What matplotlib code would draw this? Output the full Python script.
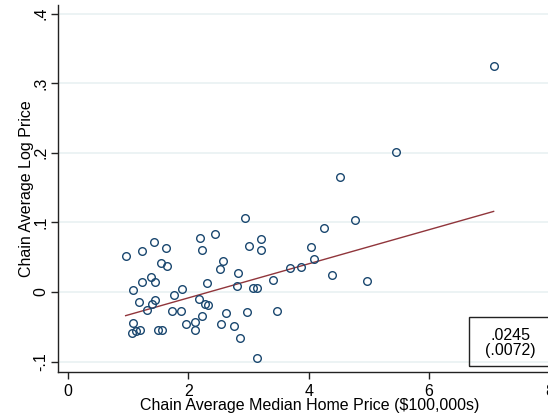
# Chain average log price vs chain average median home price, with linear fit
import matplotlib
matplotlib.use("Agg")
import matplotlib.pyplot as plt
from matplotlib.patches import Rectangle
import numpy as np

# Data
home_price = [0.958, 1.229, 1.434, 1.633, 1.550, 1.640, 2.188, 2.221, 2.437, 2.570,
              2.528, 2.832, 1.080, 1.224, 1.379, 1.445, 1.184, 1.453, 1.392, 1.309,
              1.753, 1.902, 1.728, 1.885, 2.314, 2.176, 2.276, 2.334, 2.625, 2.812,
              1.085, 1.055, 1.135, 1.199, 1.503, 1.558, 1.960, 2.115, 2.113, 2.226,
              2.537, 2.754, 2.857, 2.945, 3.002, 3.206, 3.211, 3.078, 3.145, 3.400,
              3.688, 3.875, 4.032, 4.086, 4.256, 4.771, 4.394, 4.975, 2.973, 3.467,
              3.145, 7.071, 5.454, 4.523]
log_price = [0.052, 0.059, 0.072, 0.063, 0.042, 0.038, 0.077, 0.061, 0.084, 0.045,
             0.033, 0.028, 0.003, 0.014, 0.021, 0.015, -0.014, -0.011, -0.017, -0.026,
             -0.004, 0.005, -0.027, -0.027, 0.0125, -0.010, -0.0165, -0.019, -0.030, 0.008,
             -0.0445, -0.0585, -0.0553, -0.055, -0.055, -0.0546, -0.0453, -0.043, -0.055, -0.035,
             -0.0457, -0.0486, -0.0654, 0.106, 0.0657, 0.0766, 0.060, 0.006, 0.006, 0.017,
             0.035, 0.036, 0.064, 0.048, 0.0915, 0.103, 0.024, 0.0165, -0.0283, -0.0269,
             -0.0948, 0.325, 0.2016, 0.165]

fit_intercept = -0.0574
fit_slope = 0.0245
coef_text = ".0245\n(.0072)"

x_ticks = [0, 2, 4, 6, 8]
y_ticks = [-0.1, 0, 0.1, 0.2, 0.3, 0.4]
y_tick_labels = ["-.1", "0", ".1", ".2", ".3", ".4"]

MARKER_COLOR = "#1a476f"
LINE_COLOR = "#90353b"
GRID_COLOR = "#eaf2f3"

plt.rcParams["font.family"] = ["Liberation Sans", "DejaVu Sans"]
plt.rcParams["font.size"] = 11.5

fig = plt.figure(figsize=(5.48, 4.17), dpi=100)
ax = fig.add_axes([0.1064, 0.1086, 0.9184, 0.8794])

# fitted line over the data range
fit_x = np.array([min(home_price), max(home_price)])
fit_y = fit_intercept + fit_slope * fit_x
ax.plot(fit_x, fit_y, color=LINE_COLOR, lw=1.0, zorder=3)

ax.plot(home_price, log_price, linestyle="none", marker="o", ms=5.5,
        mfc="none", mec=MARKER_COLOR, mew=1.0, zorder=4)

ax.set_xlim(-0.161, 8.2)
ax.set_ylim(-0.1145, 0.4124)
ax.set_xticks(x_ticks)
ax.set_xticklabels([str(t) for t in x_ticks])
ax.set_yticks(y_ticks)
ax.set_yticklabels(y_tick_labels, rotation=90, va="center")

for yt in y_ticks:
    ax.axhline(yt, color=GRID_COLOR, lw=1.3, zorder=1)

for side in ["top", "right"]:
    ax.spines[side].set_visible(False)
for side in ["left", "bottom"]:
    ax.spines[side].set_linewidth(1.0)
    ax.spines[side].set_color("#222222")

ax.tick_params(axis="both", length=5, width=1.0, color="#222222")
ax.tick_params(axis="x", pad=4)
ax.tick_params(axis="y", pad=2)

ax.set_xlabel("Chain Average Median Home Price ($100,000s)", labelpad=-1)
ax.set_ylabel("Chain Average Log Price", labelpad=0)

# coefficient box in the lower right
ax.add_patch(Rectangle((6.666, -0.1059), 1.5, 0.0704, fill=False,
                       edgecolor="#222222", lw=1.0, zorder=5, clip_on=False))
ax.text(7.354, -0.0726, coef_text, ha="center", va="center",
        linespacing=1.0, zorder=6)

fig.savefig("out.png", dpi=100)
